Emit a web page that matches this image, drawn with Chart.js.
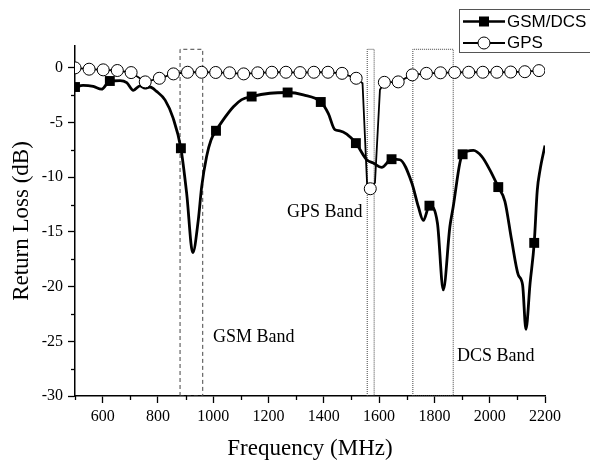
<!DOCTYPE html>
<html>
<head>
<meta charset="utf-8">
<script src="https://cdn.jsdelivr.net/npm/chart.js@4.4.1/dist/chart.umd.min.js"></script>
<style>
  html, body { margin: 0; padding: 0; background: #fff; }
  #wrap { width: 590px; height: 465px; position: relative; }
</style>
</head>
<body>
<div id="wrap"><canvas id="ch-rl"></canvas></div>
<script>
/* ── Data ── */
var seriesNames = ['GSM/DCS', 'GPS'];

// GSM/DCS trace (MHz, dB)
var gsmFreq = [500, 529, 566, 596, 626, 663, 687, 711, 735, 753, 771, 795, 826, 855, 883, 904, 926, 946,
  958, 976, 992, 1010, 1036, 1073, 1103, 1139, 1205, 1269, 1326, 1389, 1416, 1440, 1458, 1483, 1516,
  1555, 1579, 1609, 1645, 1675, 1718, 1742, 1760, 1782, 1811, 1832, 1856, 1868, 1892, 1902, 1941,
  1971, 2001, 2031, 2055, 2079, 2103, 2119, 2131, 2146, 2161, 2172, 2182, 2200];
var gsmLoss = [-1.8, -1.6, -1.7, -1.95, -1.2, -1.16, -1.35, -2.05, -1.65, -1.85, -1.75, -2.15, -2.95, -4.6, -7.35, -11.5, -16.9, -13.9,
  -10.9, -8.1, -6.6, -5.75, -4.75, -3.55, -2.9, -2.62, -2.32, -2.25, -2.47, -3.12, -4.15, -5.65, -5.75, -6.05, -6.88,
  -8.4, -8.7, -9.1, -8.35, -8.4, -10.5, -12.7, -13.95, -12.6, -14.2, -20.3, -14.5, -12.7, -8.7, -7.9, -7.55,
  -8.1, -9.35, -10.9, -12.2, -15.7, -18.9, -19.85, -23.9, -19.7, -16.0, -11.2, -9.35, -7.1];
// GSM/DCS square markers
var gsmMarkFreq = [500, 626, 883, 1010, 1139, 1269, 1389, 1516, 1645, 1782, 1902, 2031, 2161];
var gsmMarkLoss = [-1.75, -1.2, -7.35, -5.75, -2.62, -2.25, -3.12, -6.88, -8.35, -12.6, -7.9, -10.9, -16.0];

// GPS trace (MHz, dB)
var gpsFreq = [500, 551, 602, 653, 703, 754, 805, 856, 907, 958, 1009, 1059, 1110, 1161, 1212, 1263, 1314,
  1364, 1415, 1466, 1517, 1540, 1557, 1568, 1585, 1603, 1619, 1669, 1720, 1771, 1822, 1873, 1924, 1975,
  2026, 2076, 2127, 2178];
var gpsLoss = [0, -0.12, -0.18, -0.24, -0.43, -1.28, -0.95, -0.55, -0.4, -0.4, -0.42, -0.45, -0.55, -0.45, -0.4, -0.4, -0.43,
  -0.4, -0.4, -0.5, -0.95, -1.4, -10.9, -11.05, -10.5, -2.0, -1.32, -1.28, -0.64, -0.5, -0.45, -0.42, -0.4, -0.4,
  -0.4, -0.38, -0.35, -0.25];
// GPS circle markers
var gpsMarkFreq = [500, 551, 602, 653, 703, 754, 805, 856, 907, 958, 1009, 1059, 1110, 1161, 1212, 1263, 1314,
  1364, 1415, 1466, 1517, 1568, 1619, 1669, 1720, 1771, 1822, 1873, 1924, 1975, 2026, 2076, 2127, 2178];
var gpsMarkLoss = [0, -0.12, -0.18, -0.24, -0.43, -1.28, -0.95, -0.55, -0.4, -0.4, -0.42, -0.45, -0.55, -0.45, -0.4, -0.4, -0.43,
  -0.4, -0.4, -0.5, -0.95, -11.05, -1.32, -1.28, -0.64, -0.5, -0.45, -0.42, -0.4, -0.4, -0.4, -0.38, -0.35, -0.25];

// Frequency bands (MHz) and their labels
var bandNames = ['GSM Band', 'GPS Band', 'DCS Band'];
var bandLo = [880, 1557, 1722];
var bandHi = [962, 1582, 1868];
var bandTop = 1.7;
var bandLabelFreq = [999, 1267, 1882];
var bandLabelLoss = [-24.6, -13.2, -26.4];

// Axis ticks
var xTicks = [600, 800, 1000, 1200, 1400, 1600, 1800, 2000, 2200];
var xMinor = [500, 700, 900, 1100, 1300, 1500, 1700, 1900, 2100];
var yTicks = [0, -5, -10, -15, -20, -25, -30];
var yMinor = [-2.5, -7.5, -12.5, -17.5, -22.5, -27.5];

/* ── Helpers ── */
function pts(xs, ys) {
  return xs.map(function(x, i) { return { x: x, y: ys[i] }; });
}
function boxPts(i) {
  return [
    { x: bandLo[i], y: -30 }, { x: bandLo[i], y: bandTop },
    { x: bandHi[i], y: bandTop }, { x: bandHi[i], y: -30 }, { x: bandLo[i], y: -30 }
  ];
}
function bandDataset(i, dash) {
  return {
    data: boxPts(i), borderColor: '#444', borderWidth: 1, borderDash: dash,
    pointRadius: 0, tension: 0, order: 5
  };
}
function plainTick(v) { return String(v); }

/* ── Minor ticks, band labels, boxed legend ── */
var extrasPlugin = {
  id: 'extras',
  afterDraw: function(chart) {
    var ctx = chart.ctx, xs = chart.scales.x, ys = chart.scales.y, ca = chart.chartArea;
    ctx.save();
    ctx.strokeStyle = '#000';
    ctx.lineWidth = 1.3;
    xMinor.forEach(function(v) {
      var p = Math.round(xs.getPixelForValue(v)) + 0.5;
      ctx.beginPath(); ctx.moveTo(p, ca.bottom); ctx.lineTo(p, ca.bottom + 4); ctx.stroke();
    });
    yMinor.forEach(function(v) {
      var p = Math.round(ys.getPixelForValue(v)) + 0.5;
      ctx.beginPath(); ctx.moveTo(ca.left, p); ctx.lineTo(ca.left - 4, p); ctx.stroke();
    });

    // band labels
    ctx.fillStyle = '#000';
    ctx.font = '18px "Liberation Serif"';
    ctx.textAlign = 'left';
    ctx.textBaseline = 'middle';
    bandNames.forEach(function(t, i) {
      ctx.fillText(t, xs.getPixelForValue(bandLabelFreq[i]), ys.getPixelForValue(bandLabelLoss[i]));
    });

    // legend box
    ctx.fillStyle = '#fff';
    ctx.fillRect(459.5, 9.5, 140, 43);
    ctx.strokeStyle = '#555';
    ctx.lineWidth = 1;
    ctx.strokeRect(459.5, 9.5, 140, 43);
    var rows = [21.5, 43];
    rows.forEach(function(y, i) {
      ctx.strokeStyle = '#000';
      ctx.lineWidth = i === 0 ? 2.6 : 1.8;
      ctx.beginPath(); ctx.moveTo(463, y); ctx.lineTo(505, y); ctx.stroke();
      if (i === 0) {
        ctx.fillStyle = '#000';
        ctx.fillRect(479, y - 5, 10, 10);
      } else {
        ctx.beginPath(); ctx.arc(484, y, 6, 0, Math.PI * 2);
        ctx.fillStyle = '#fff'; ctx.fill();
        ctx.lineWidth = 1; ctx.stroke();
      }
      ctx.fillStyle = '#000';
      ctx.font = '17px "Liberation Sans"';
      ctx.textAlign = 'left';
      ctx.textBaseline = 'middle';
      ctx.fillText(seriesNames[i], 507, y + 0.5);
    });
    ctx.restore();
  }
};

/* ── Chart ── */
Chart.defaults.font.family = '"Liberation Serif", "Times New Roman", serif';
Chart.defaults.font.size = 16;
Chart.defaults.color = '#000';

new Chart(document.getElementById('ch-rl'), {
  type: 'line',
  data: {
    datasets: [
      {
        data: pts(gpsMarkFreq, gpsMarkLoss), showLine: false, pointStyle: 'circle',
        pointRadius: 6, pointBackgroundColor: '#fff', pointBorderColor: '#000', pointBorderWidth: 1, order: 0
      },
      {
        data: pts(gpsFreq, gpsLoss), borderColor: '#000', borderWidth: 1.8,
        pointRadius: 0, tension: 0, order: 1
      },
      {
        data: pts(gsmMarkFreq, gsmMarkLoss), showLine: false, pointStyle: 'rect',
        pointRadius: 7, pointBackgroundColor: '#000', pointBorderColor: '#000', pointBorderWidth: 0, order: 2
      },
      {
        data: pts(gsmFreq, gsmLoss), borderColor: '#000', borderWidth: 2.8,
        pointRadius: 0, cubicInterpolationMode: 'monotone', order: 3
      },
      bandDataset(0, [4, 3]),
      bandDataset(1, [1, 1]),
      bandDataset(2, [1, 1])
    ]
  },
  options: {
    responsive: true,
    maintainAspectRatio: false,
    animation: false,
    layout: { padding: { top: 46, right: 45, left: 0, bottom: 0 } },
    plugins: { legend: { display: false }, tooltip: { enabled: false } },
    scales: {
      x: {
        type: 'linear', min: 500, max: 2200,
        afterBuildTicks: function(s) { s.ticks = xTicks.map(function(v) { return { value: v }; }); },
        afterFit: function(s) { s.height = 69; },
        grid: { drawOnChartArea: false, tickLength: 7, tickColor: '#000', tickWidth: 1.3 },
        border: { color: '#000', width: 1.5 },
        ticks: { padding: 4, maxRotation: 0, autoSkip: false, font: { size: 16 }, callback: plainTick },
        title: { display: true, text: 'Frequency (MHz)', font: { size: 23 }, padding: { top: 0, bottom: 2 } }
      },
      y: {
        type: 'linear', min: -30, max: 2,
        afterBuildTicks: function(s) { s.ticks = yTicks.map(function(v) { return { value: v }; }); },
        afterFit: function(s) { s.width = 75; },
        grid: { drawOnChartArea: false, tickLength: 7, tickColor: '#000', tickWidth: 1.3 },
        border: { color: '#000', width: 1.5 },
        ticks: { padding: 5, autoSkip: false, font: { size: 16 }, callback: plainTick },
        title: { display: true, text: 'Return Loss (dB)', font: { size: 23 }, padding: { top: 8, bottom: 0 } }
      }
    }
  },
  plugins: [extrasPlugin]
});
</script>
</body>
</html>
